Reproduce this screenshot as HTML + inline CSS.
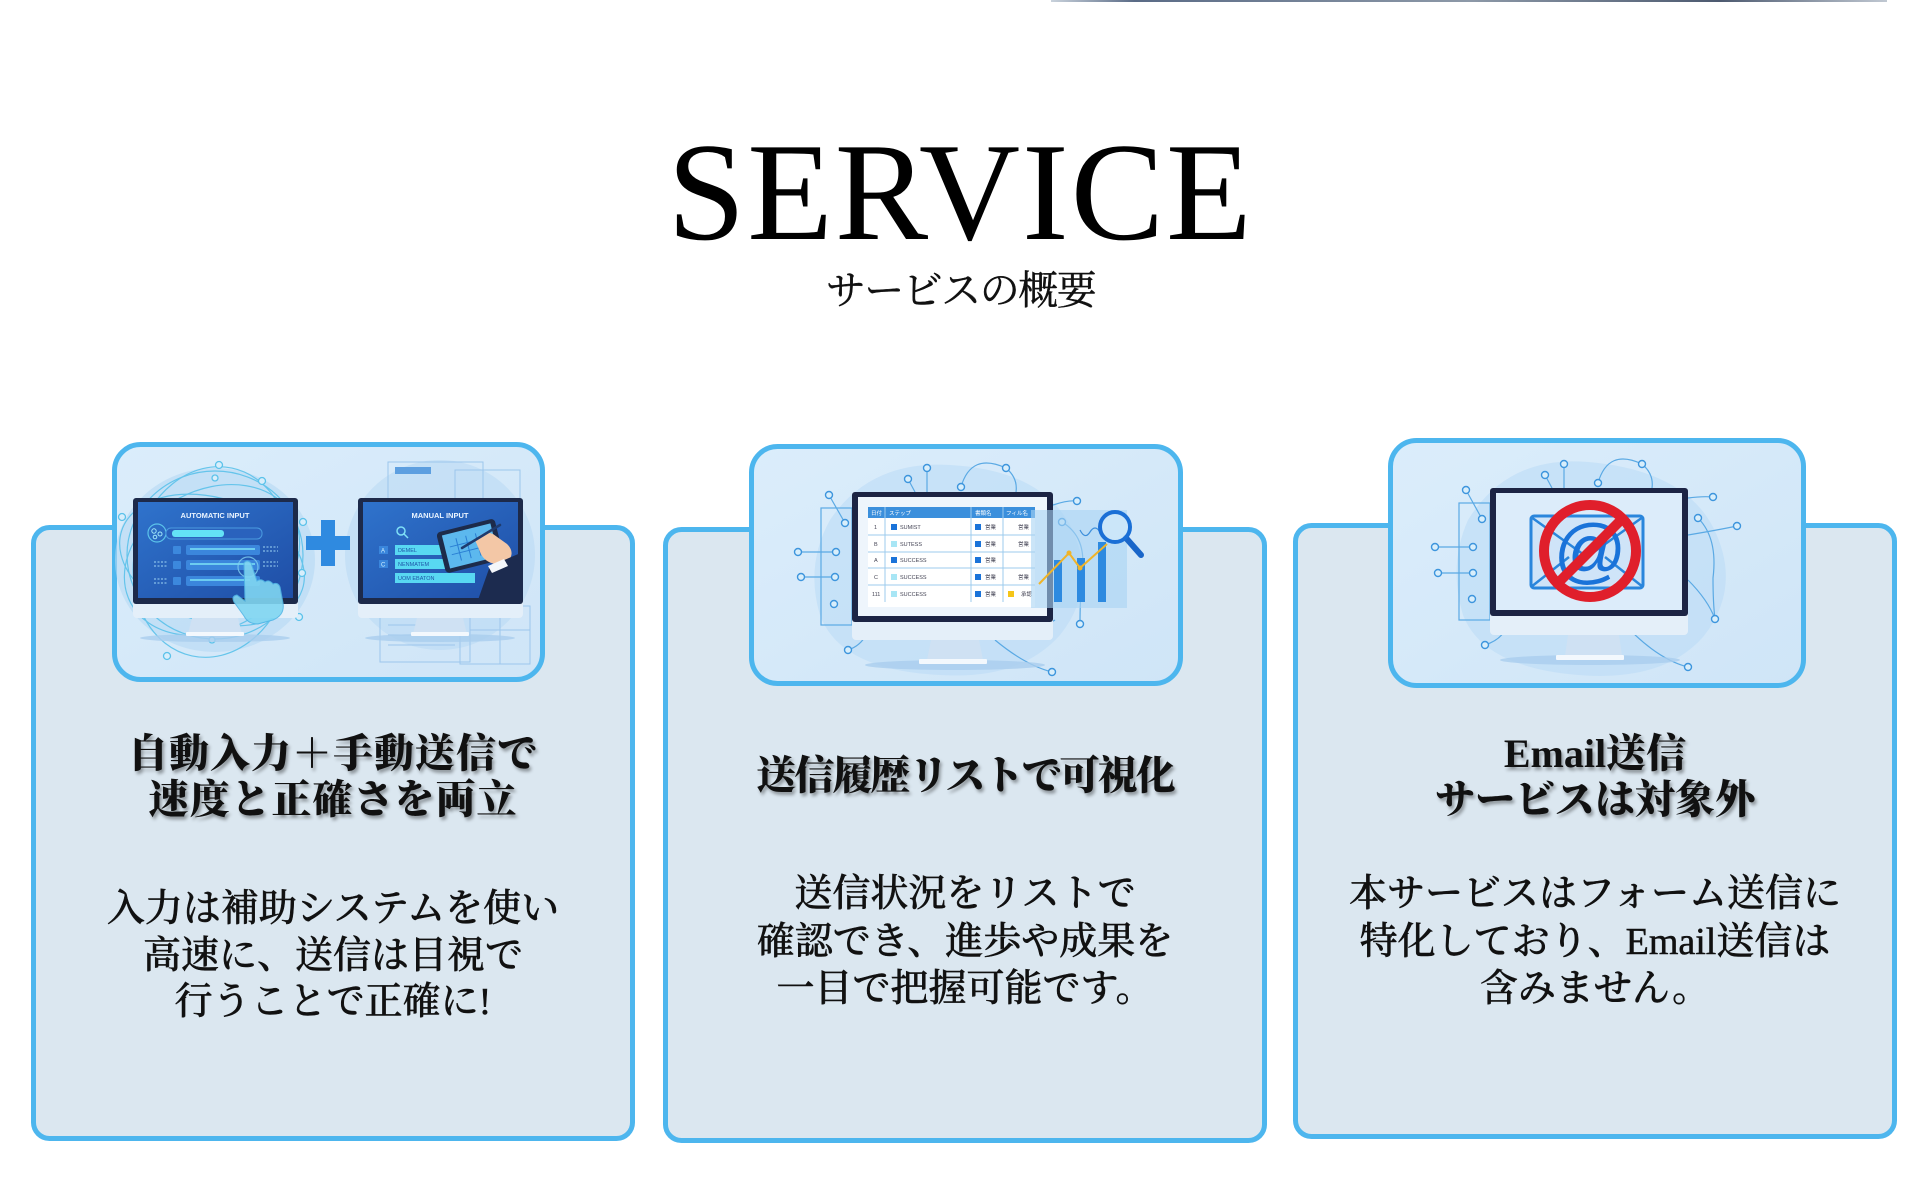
<!DOCTYPE html>
<html><head><meta charset="utf-8">
<style>
html,body{margin:0;padding:0;background:#fff;}
body{width:1921px;height:1201px;position:relative;overflow:hidden;}
.abs{position:absolute;}
.h1{left:0;width:1921px;top:123px;text-align:center;font-family:"Liberation Serif","Noto Serif CJK SC",serif;font-size:140px;line-height:140px;letter-spacing:2px;color:#000;}
.h2{left:0;width:1921px;top:266px;text-align:center;font-family:"Liberation Serif","Noto Serif CJK SC",serif;font-size:40px;line-height:50px;letter-spacing:-1.5px;color:#111;-webkit-text-stroke:0.4px #111;}
.t{text-align:center;font-family:"Liberation Serif","Noto Serif CJK SC",serif;font-size:40px;line-height:46px;font-weight:900;color:#111;letter-spacing:1px;text-shadow:2px 3px 3px rgba(0,0,0,0.35);}
.b{text-align:center;font-family:"Liberation Serif","Noto Serif CJK SC",serif;font-size:38px;font-weight:500;color:#111;-webkit-text-stroke:0.5px #111;}
</style></head>
<body>
<svg class="abs" style="left:0;top:0" width="1921" height="1201" viewBox="0 0 1921 1201" xmlns="http://www.w3.org/2000/svg">
<defs>
<linearGradient id="pg" x1="0" y1="0" x2="1" y2="1"><stop offset="0" stop-color="#dbedfb"/><stop offset="1" stop-color="#cfe5f7"/></linearGradient>
<linearGradient id="scr" x1="0" y1="0" x2="1" y2="1"><stop offset="0" stop-color="#2f73cc"/><stop offset="1" stop-color="#1f4ea6"/></linearGradient>
<linearGradient id="top" x1="0" y1="0" x2="1" y2="0"><stop offset="0" stop-color="#c9d2dc"/><stop offset=".1" stop-color="#5a6b86"/><stop offset=".5" stop-color="#8d99a8"/><stop offset=".8" stop-color="#4d5a70"/><stop offset="1" stop-color="#c0c8d2"/></linearGradient>
</defs>
<rect x="1051" y="0" width="836" height="2" fill="url(#top)"/>

<!-- cards -->
<rect x="33.5" y="527.5" width="599" height="611" rx="16" fill="#dbe7f0" stroke="#4db6ee" stroke-width="5"/>
<rect x="665.5" y="529.5" width="599" height="611" rx="16" fill="#dbe7f0" stroke="#4db6ee" stroke-width="5"/>
<rect x="1295.5" y="525.5" width="599" height="611" rx="16" fill="#dbe7f0" stroke="#4db6ee" stroke-width="5"/>

<!-- panels -->
<rect x="114.5" y="444.5" width="428" height="235" rx="26" fill="url(#pg)" stroke="#4db6ee" stroke-width="5"/>
<rect x="751.5" y="446.5" width="429" height="237" rx="26" fill="url(#pg)" stroke="#4db6ee" stroke-width="5"/>
<rect x="1390.5" y="440.5" width="413" height="245" rx="26" fill="url(#pg)" stroke="#4db6ee" stroke-width="5"/>

<!-- ===== PANEL 1 ===== -->
<g>
<ellipse cx="215" cy="560" rx="100" ry="92" fill="#b5d8f4" opacity=".6"/>
<ellipse cx="440" cy="555" rx="95" ry="95" fill="#b5d8f4" opacity=".5"/>
<g fill="none" stroke="#5bc2ea" stroke-width="1.2" opacity=".9">
<ellipse cx="212" cy="560" rx="95" ry="62" transform="rotate(18 212 560)"/>
<ellipse cx="212" cy="560" rx="92" ry="70" transform="rotate(-28 212 560)"/>
<ellipse cx="212" cy="562" rx="78" ry="96" transform="rotate(12 212 562)"/>
<ellipse cx="215" cy="555" rx="88" ry="84"/>
</g>
<g fill="#d8eefb" stroke="#5bc2ea" stroke-width="1.3">
<circle cx="219" cy="465" r="3.5"/><circle cx="215" cy="478" r="3"/><circle cx="262" cy="481" r="3.5"/><circle cx="122" cy="517" r="3.5"/><circle cx="303" cy="522" r="3.5"/><circle cx="302" cy="573" r="3.5"/><circle cx="299" cy="617" r="3.5"/><circle cx="167" cy="656" r="3.5"/><circle cx="212" cy="640" r="3"/>
</g>
<g fill="none" stroke="#9cc6ec" stroke-width="1">
<rect x="388" y="462" width="95" height="40"/><rect x="455" y="470" width="65" height="32"/>
<rect x="380" y="612" width="90" height="50"/><rect x="460" y="606" width="70" height="58"/>
<line x1="388" y1="625" x2="450" y2="625"/><line x1="388" y1="635" x2="445" y2="635"/><line x1="388" y1="645" x2="455" y2="645"/>
<line x1="500" y1="606" x2="500" y2="664"/><line x1="470" y1="630" x2="530" y2="630"/>
</g>
<rect x="395" y="467" width="36" height="7" fill="#5d9fe0"/>
<!-- monitor 1 -->
<ellipse cx="215" cy="638" rx="75" ry="4" fill="#a9cdee" opacity=".8"/>
<path d="M192 618 L238 618 L242 634 L188 634 Z" fill="#cfe1f3"/>
<rect x="186" y="632" width="58" height="4" rx="1" fill="#f3f8fd"/>
<rect x="133" y="498" width="165" height="120" rx="4" fill="#e4eff9"/>
<rect x="133" y="498" width="165" height="106" rx="3" fill="#1d2a4a"/>
<rect x="138" y="502" width="155" height="96" fill="url(#scr)"/>
<text x="215" y="518" font-family="Liberation Sans,sans-serif" font-size="7.5" font-weight="bold" fill="#eaf4ff" text-anchor="middle">AUTOMATIC INPUT</text>
<circle cx="157" cy="533" r="9" fill="none" stroke="#5bc3ea" stroke-width="1.2"/>
<circle cx="154" cy="531" r="2.2" fill="none" stroke="#9fe5f8" stroke-width="1"/><circle cx="160" cy="534" r="2" fill="none" stroke="#9fe5f8" stroke-width="1"/><circle cx="155" cy="537" r="1.8" fill="none" stroke="#9fe5f8" stroke-width="1"/>
<rect x="166" y="528" width="96" height="11" rx="5" fill="#2a62bd" stroke="#4a9be0" stroke-width="1"/>
<rect x="172" y="530" width="52" height="7" rx="3" fill="#63e2f6"/>
<g fill="#3c88dd"><rect x="173" y="546" width="8" height="8" rx="1"/><rect x="173" y="561" width="8" height="8" rx="1"/><rect x="173" y="577" width="8" height="8" rx="1"/></g>
<g fill="#3b86dc"><rect x="186" y="545" width="74" height="10" rx="2"/><rect x="186" y="560" width="74" height="10" rx="2"/><rect x="186" y="576" width="74" height="10" rx="2"/></g>
<g stroke="#7de3f7" stroke-width="1.5"><line x1="190" y1="549" x2="255" y2="549"/><line x1="190" y1="564" x2="255" y2="564"/><line x1="190" y1="580" x2="250" y2="580"/></g>
<g stroke="#9fd6f5" stroke-width="1" stroke-dasharray="2 1.5"><line x1="263" y1="547" x2="278" y2="547"/><line x1="263" y1="551" x2="278" y2="551"/><line x1="263" y1="562" x2="278" y2="562"/><line x1="263" y1="566" x2="278" y2="566"/><line x1="154" y1="562" x2="168" y2="562"/><line x1="154" y1="566" x2="168" y2="566"/><line x1="154" y1="579" x2="168" y2="579"/><line x1="154" y1="583" x2="168" y2="583"/></g>
<circle cx="248" cy="567" r="10" fill="none" stroke="#7fd0f0" stroke-width="1.2" opacity=".8"/>
<path d="M244 563 q3-4 7 0 l6 18 q4-3 8 1 q4-3 8 2 q5-2 7 3 l3 16 q2 12-10 17 l-15 4 q-10 0-14-8 l-10-14 q-3-6 3-7 l8 6 z" fill="#80d6f2" opacity=".9" stroke="#52b6e6" stroke-width="1"/>
<!-- plus -->
<rect x="306" y="536" width="44" height="14" fill="#2f8ae0"/>
<rect x="321" y="520" width="14" height="46" fill="#2f8ae0"/>
<!-- monitor 2 -->
<ellipse cx="440" cy="638" rx="75" ry="4" fill="#a9cdee" opacity=".8"/>
<path d="M417 618 L463 618 L467 634 L413 634 Z" fill="#cfe1f3"/>
<rect x="411" y="632" width="58" height="4" rx="1" fill="#f3f8fd"/>
<rect x="358" y="498" width="165" height="120" rx="4" fill="#e4eff9"/>
<rect x="358" y="498" width="165" height="106" rx="3" fill="#1d2a4a"/>
<rect x="363" y="502" width="155" height="96" fill="url(#scr)"/>
<text x="440" y="518" font-family="Liberation Sans,sans-serif" font-size="7.5" font-weight="bold" fill="#eaf4ff" text-anchor="middle">MANUAL INPUT</text>
<circle cx="401" cy="531" r="4" fill="none" stroke="#7fe0f7" stroke-width="1.5"/><line x1="404" y1="534" x2="408" y2="538" stroke="#7fe0f7" stroke-width="1.5"/>
<g fill="#3a86dc"><rect x="379" y="546" width="9" height="8"/><rect x="379" y="560" width="9" height="8"/></g>
<g fill="#cfefff" font-family="Liberation Sans,sans-serif" font-size="6"><text x="381" y="552.5">A</text><text x="381" y="566.5">C</text></g>
<g fill="#58d8f2"><rect x="395" y="545" width="50" height="10"/><rect x="395" y="559" width="50" height="10"/><rect x="395" y="573" width="80" height="10"/></g>
<g fill="#1e56a8" font-family="Liberation Sans,sans-serif" font-size="5.5"><text x="398" y="552">DEMEL</text><text x="398" y="566">NENMATEM</text><text x="398" y="580">UOM EBATON</text></g>
<g transform="rotate(-14 470 545)">
<rect x="440" y="525" width="60" height="42" rx="4" fill="#1d2b4a"/>
<rect x="445" y="529" width="50" height="34" fill="#5cb8ee"/>
<g stroke="#2a7fd4" stroke-width="1"><line x1="458" y1="535" x2="458" y2="558"/><line x1="468" y1="535" x2="468" y2="558"/><line x1="478" y1="535" x2="478" y2="558"/><line x1="450" y1="542" x2="490" y2="542"/><line x1="450" y1="550" x2="490" y2="550"/></g>
</g>
<path d="M475 540 q8-10 18-6 l14 10 q8 8 2 16 l-14 4 q-10-2-14-10 z" fill="#f3c7a6"/>
<line x1="462" y1="548" x2="500" y2="525" stroke="#1f3b6e" stroke-width="2.5" stroke-linecap="round"/>
<path d="M490 566 L523 552 L523 600 L478 600 Z" fill="#1c2b4f"/>
<path d="M488 566 L504 559 L508 566 L492 573 Z" fill="#f4f7fb"/>
</g>

<!-- ===== PANEL 2 ===== -->
<g>
<path d="M830 520 q40-60 120-55 q90 5 120 60 q30 60-10 110 q-40 45-120 40 q-100-5-120-60 q-15-50 10-95 z" fill="#b9dbf5" opacity=".55"/>
<g fill="none" stroke="#5aa9e4" stroke-width="1.2">
<rect x="821" y="508" width="31" height="117"/>
<line x1="798" y1="552" x2="836" y2="552"/><line x1="801" y1="577" x2="835" y2="577"/>
<line x1="829" y1="495" x2="845" y2="523"/><line x1="927" y1="468" x2="927" y2="492"/><line x1="908" y1="479" x2="915" y2="492"/>
<path d="M961 487 q10-35 45-19 q12 10 10 24"/><path d="M1053 505 q15-5 24-4"/><path d="M1062 522 q25 15 20 50 q-2 30 -2 52"/><path d="M848 650 q15-5 20-20"/><path d="M995 640 q30 25 57 32"/><path d="M985 600 q40 40 70 20"/>
</g>
<g fill="#d8eefb" stroke="#3d95dd" stroke-width="1.4">
<circle cx="829" cy="495" r="3.5"/><circle cx="845" cy="523" r="3.5"/><circle cx="798" cy="552" r="3.5"/><circle cx="836" cy="552" r="3.5"/><circle cx="801" cy="577" r="3.5"/><circle cx="835" cy="577" r="3.5"/><circle cx="834" cy="604" r="3.5"/><circle cx="848" cy="650" r="3.5"/><circle cx="927" cy="468" r="3.5"/><circle cx="908" cy="479" r="3.5"/><circle cx="961" cy="487" r="3.5"/><circle cx="1006" cy="468" r="3.5"/><circle cx="1077" cy="501" r="3.5"/><circle cx="1062" cy="522" r="3.5"/><circle cx="1080" cy="624" r="3.5"/><circle cx="1052" cy="672" r="3.5"/>
</g>
<ellipse cx="955" cy="665" rx="90" ry="5" fill="#a9cdee" opacity=".8"/>
<path d="M931 640 L979 640 L983 660 L927 660 Z" fill="#cfe1f3"/>
<rect x="919" y="659" width="68" height="5" rx="1" fill="#f3f8fd"/>
<rect x="852" y="492" width="201" height="148" rx="4" fill="#e4eff9"/>
<rect x="852" y="492" width="201" height="130" rx="3" fill="#1c2444"/>
<rect x="858" y="497" width="189" height="119" fill="#eef5fc"/>
<rect x="868" y="507" width="167" height="100" fill="#ffffff"/>
<rect x="868" y="507" width="167" height="11" fill="#3b8fdc"/>
<g font-family="Liberation Sans,'Noto Sans CJK JP',sans-serif" font-size="5.5" fill="#fff"><text x="871" y="515">日付</text><text x="889" y="515">ステップ</text><text x="975" y="515">書類名</text><text x="1006" y="515">フィル名</text></g>
<g stroke="#9ccbee" stroke-width="1"><line x1="868" y1="535" x2="1035" y2="535"/><line x1="868" y1="552" x2="1035" y2="552"/><line x1="868" y1="568" x2="1035" y2="568"/><line x1="868" y1="585" x2="1035" y2="585"/><line x1="885" y1="507" x2="885" y2="602"/><line x1="971" y1="507" x2="971" y2="602"/><line x1="1003" y1="507" x2="1003" y2="602"/></g>
<g font-family="Liberation Sans,'Noto Sans CJK JP',sans-serif" font-size="5.5" fill="#445">
<text x="874" y="529">1</text><text x="874" y="546">B</text><text x="874" y="562">A</text><text x="874" y="579">C</text><text x="872" y="596">111</text>
<text x="900" y="529">SUMIST</text><text x="900" y="546">SUTESS</text><text x="900" y="562">SUCCESS</text><text x="900" y="579">SUCCESS</text><text x="900" y="596">SUCCESS</text>
<text x="985" y="529">営業</text><text x="985" y="546">営業</text><text x="985" y="562">営業</text><text x="985" y="579">営業</text><text x="985" y="596">営業</text>
<text x="1018" y="529">営業</text><text x="1018" y="546">営業</text><text x="1018" y="579">営業</text><text x="1021" y="596">承認</text>
</g>
<g fill="#1a73d9"><rect x="891" y="524" width="6" height="6"/><rect x="891" y="557" width="6" height="6"/><rect x="975" y="524" width="6" height="6"/><rect x="975" y="541" width="6" height="6"/><rect x="975" y="557" width="6" height="6"/><rect x="975" y="574" width="6" height="6"/><rect x="975" y="591" width="6" height="6"/></g>
<g fill="#a8e6f5"><rect x="891" y="541" width="6" height="6"/><rect x="891" y="574" width="6" height="6"/><rect x="891" y="591" width="6" height="6"/></g>
<rect x="1008" y="591" width="6" height="6" fill="#f5c518"/>
<rect x="1031" y="510" width="96" height="98" fill="#a9d4f3" opacity=".6"/>
<g fill="#2d8ae0"><rect x="1054" y="560" width="8" height="42"/><rect x="1077" y="558" width="8" height="44"/><rect x="1098" y="542" width="8" height="60"/></g>
<polyline points="1039,584 1069,553 1080,568 1107,544" fill="none" stroke="#f0b429" stroke-width="2"/>
<circle cx="1069" cy="553" r="2.5" fill="#f0b429"/><circle cx="1080" cy="568" r="2.5" fill="#f0b429"/>
<path d="M1080 530 q5 10 10 2 q5-8 10 0" fill="none" stroke="#3d8fdc" stroke-width="1.2"/>
<line x1="1126" y1="538" x2="1141" y2="555" stroke="#1a66c9" stroke-width="6" stroke-linecap="round"/>
<circle cx="1115" cy="527" r="15" fill="#d7ecfb" fill-opacity=".6" stroke="#1a6fd6" stroke-width="4"/>
</g>

<!-- ===== PANEL 3 ===== -->
<g>
<path d="M1468 520 q40-65 120-58 q95 8 125 65 q30 60-10 110 q-40 45-125 38 q-95-8-115-60 q-15-50 5-95 z" fill="#b9dbf5" opacity=".55"/>
<g fill="none" stroke="#5aa9e4" stroke-width="1.2">
<rect x="1459" y="503" width="31" height="117"/>
<line x1="1435" y1="547" x2="1473" y2="547"/><line x1="1438" y1="573" x2="1473" y2="573"/>
<line x1="1466" y1="490" x2="1482" y2="519"/><line x1="1564" y1="464" x2="1564" y2="488"/><line x1="1545" y1="475" x2="1552" y2="488"/>
<path d="M1598 483 q10-35 44-19 q12 10 10 24"/><path d="M1688 498 q15-2 25-1"/><path d="M1698 518 q20 20 15 60 q0 25 2 41"/><path d="M1688 535 q30-5 49-9"/><path d="M1485 645 q15-5 20-15"/><path d="M1630 630 q30 30 58 37"/><path d="M1688 580 q20 20 27 39"/>
</g>
<g fill="#d8eefb" stroke="#3d95dd" stroke-width="1.4">
<circle cx="1466" cy="490" r="3.5"/><circle cx="1482" cy="519" r="3.5"/><circle cx="1435" cy="547" r="3.5"/><circle cx="1473" cy="547" r="3.5"/><circle cx="1438" cy="573" r="3.5"/><circle cx="1473" cy="573" r="3.5"/><circle cx="1472" cy="599" r="3.5"/><circle cx="1485" cy="645" r="3.5"/><circle cx="1564" cy="464" r="3.5"/><circle cx="1545" cy="475" r="3.5"/><circle cx="1598" cy="483" r="3.5"/><circle cx="1642" cy="464" r="3.5"/><circle cx="1713" cy="497" r="3.5"/><circle cx="1698" cy="518" r="3.5"/><circle cx="1737" cy="526" r="3.5"/><circle cx="1715" cy="619" r="3.5"/><circle cx="1688" cy="667" r="3.5"/>
</g>
<ellipse cx="1590" cy="660" rx="90" ry="5" fill="#a9cdee" opacity=".8"/>
<path d="M1568 635 L1619 635 L1622 656 L1565 656 Z" fill="#cfe1f3"/>
<rect x="1556" y="655" width="68" height="5" rx="1" fill="#f3f8fd"/>
<rect x="1490" y="488" width="198" height="147" rx="4" fill="#e4eff9"/>
<rect x="1490" y="488" width="198" height="128" rx="3" fill="#1c2444"/>
<rect x="1496" y="493" width="186" height="117" fill="#dcecfa"/>
<rect x="1531" y="516" width="112" height="72" rx="3" fill="#cfe4f8" stroke="#2a86dc" stroke-width="3"/>
<polyline points="1531,517 1587,557 1643,517" fill="none" stroke="#2a86dc" stroke-width="2.5"/>
<line x1="1531" y1="587" x2="1569" y2="557" stroke="#2a86dc" stroke-width="2.5"/>
<line x1="1643" y1="587" x2="1605" y2="557" stroke="#2a86dc" stroke-width="2.5"/>
<text x="1590" y="575" font-family="Liberation Sans,sans-serif" font-size="72" fill="#1a73d9" text-anchor="middle">@</text>
<circle cx="1590" cy="551" r="46" fill="none" stroke="#e01f2b" stroke-width="10"/>
<line x1="1622" y1="519" x2="1558" y2="583" stroke="#e01f2b" stroke-width="10"/>
</g>
</svg>

<div class="abs h1">SERVICE</div>
<div class="abs h2">サービスの概要</div>

<div class="abs t" style="left:31px;width:604px;top:731px;">自動入力＋手動送信で<br>速度と正確さを両立</div>
<div class="abs b" style="left:31px;width:604px;top:886px;line-height:46.5px;">入力は補助システムを使い<br>高速に、送信は目視で<br>行うことで正確に!</div>

<div class="abs t" style="left:663px;width:604px;top:753px;letter-spacing:-2px;">送信履歴リストで可視化</div>
<div class="abs b" style="left:663px;width:604px;top:871px;line-height:47.5px;">送信状況をリストで<br>確認でき、進歩や成果を<br>一目で把握可能です。</div>

<div class="abs t" style="left:1293px;width:604px;top:731px;letter-spacing:0px;">Email送信<br>サービスは対象外</div>
<div class="abs b" style="left:1293px;width:604px;top:871px;line-height:47.5px;">本サービスはフォーム送信に<br>特化しており、Email送信は<br>含みません。</div>
</body></html>
